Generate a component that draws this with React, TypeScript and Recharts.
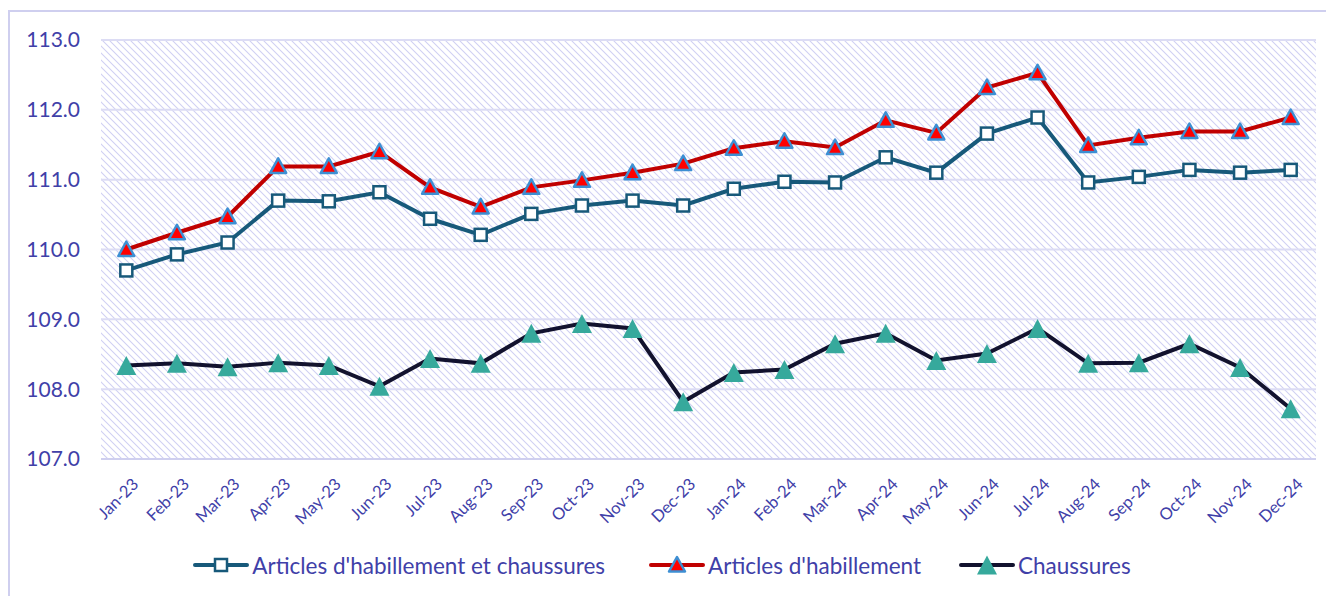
import { CartesianGrid, Legend, Line, LineChart, XAxis, YAxis } from "recharts";

const months = [
  "Jan-23", "Feb-23", "Mar-23", "Apr-23", "May-23", "Jun-23", "Jul-23", "Aug-23", "Sep-23", "Oct-23", "Nov-23", "Dec-23",
  "Jan-24", "Feb-24", "Mar-24", "Apr-24", "May-24", "Jun-24", "Jul-24", "Aug-24", "Sep-24", "Oct-24", "Nov-24", "Dec-24",
];
const habillementChaussures = [
  109.7, 109.93, 110.1, 110.7, 110.69, 110.82, 110.44, 110.21, 110.51, 110.63, 110.7, 110.63,
  110.87, 110.97, 110.96, 111.32, 111.1, 111.66, 111.89, 110.96, 111.04, 111.14, 111.1, 111.14,
];
const habillement = [
  110.0, 110.24, 110.47, 111.19, 111.19, 111.4, 110.89, 110.61, 110.89, 110.99, 111.1, 111.23,
  111.45, 111.55, 111.46, 111.85, 111.67, 112.32, 112.53, 111.49, 111.6, 111.69, 111.69, 111.89,
];
const chaussures = [
  108.34, 108.37, 108.32, 108.38, 108.34, 108.04, 108.44, 108.37, 108.8, 108.94, 108.87, 107.82,
  108.24, 108.28, 108.65, 108.8, 108.41, 108.51, 108.87, 108.37, 108.38, 108.65, 108.31, 107.72,
];
const yTicks = [107, 108, 109, 110, 111, 112, 113];

const data = months.map((m, i) => ({
  m,
  both: habillementChaussures[i],
  hab: habillement[i],
  chau: chaussures[i],
}));
// band edges, for the little tick marks between the months
const edgeTicks = months.map((_, i) => i).concat(months.length);

const TXT = "#4040a8";
const LAV = "#cfcfef";
const FONT = "Lato, 'Open Sans', sans-serif";

const C_BOTH = "#17597a";
const C_HAB = "#c00000";
const C_HAB_EDGE = "#3d8fd3";
const C_CHAU = "#12122e";
const C_CHAU_MK = "#36a99c";

function Square({ cx, cy }: any) {
  if (cx == null || cy == null) return null;
  return <rect x={cx - 6} y={cy - 6} width={12} height={12} fill="#fff" stroke={C_BOTH} strokeWidth={2.5} />;
}
function RedTri({ cx, cy }: any) {
  if (cx == null || cy == null) return null;
  return (
    <polygon
      points={`${cx},${cy - 8} ${cx + 8},${cy + 6.5} ${cx - 8},${cy + 6.5}`}
      fill="#ff0000" stroke={C_HAB_EDGE} strokeWidth={2.5} strokeLinejoin="round"
    />
  );
}
function TealTri({ cx, cy }: any) {
  if (cx == null || cy == null) return null;
  return <polygon points={`${cx},${cy - 9.5} ${cx + 10},${cy + 9.5} ${cx - 10},${cy + 9.5}`} fill={C_CHAU_MK} />;
}

const legendItems = [
  { label: "Articles d'habillement et chaussures", color: C_BOTH, Mk: Square, gap: 44 },
  { label: "Articles d'habillement", color: C_HAB, Mk: RedTri, gap: 38 },
  { label: "Chaussures", color: C_CHAU, Mk: TealTri, gap: 0 },
];

function LegendBox() {
  return (
    <div style={{ display: "flex", justifyContent: "center", alignItems: "center", height: 28, fontFamily: FONT, fontSize: 22.5, color: TXT }}>
      {legendItems.map(({ label, color, Mk, gap }) => (
        <div key={label} style={{ display: "flex", alignItems: "center", marginRight: gap }}>
          <svg width={56} height={24} style={{ marginRight: 3 }}>
            <line x1={2} y1={12} x2={54} y2={12} stroke={color} strokeWidth={4} strokeLinecap="round" />
            <Mk cx={28} cy={12} />
          </svg>
          <span>{label}</span>
        </div>
      ))}
    </div>
  );
}

export default function App() {
  return (
    <div style={{ position: "relative", width: 1326, height: 588, top: 1 }}>
      <svg width={0} height={0} style={{ position: "absolute" }}>
        <defs>
          <pattern id="hatch" patternUnits="userSpaceOnUse" width={7} height={7}>
            <path d="M-2,-2 L9,9 M-2,5 L2,9 M5,-2 L9,2" stroke="#d0d0f3" strokeWidth={1.1} />
          </pattern>
        </defs>
      </svg>
      <div style={{ position: "absolute", left: 0, top: 1, width: 1326, height: 2, background: LAV }} />
      <div style={{ position: "absolute", left: 0, top: 1, width: 2, height: 587, background: LAV }} />
      <LineChart width={1326} height={588} data={data} margin={{ top: 31, right: 18, left: 0, bottom: 18 }}>
        <CartesianGrid xAxisId={1} vertical={false} stroke="#dcdcf4" strokeWidth={2} fill="url(#hatch)" fillOpacity={1} />
        <XAxis
          xAxisId={0} type="number" domain={[0, months.length]} ticks={edgeTicks} allowDataOverflow
          height={6} tick={false} tickSize={6} tickLine={{ stroke: LAV, strokeWidth: 2 }}
          axisLine={{ stroke: LAV, strokeWidth: 2 }}
        />
        <XAxis
          xAxisId={1} dataKey="m" scale="band" interval={0} height={86} axisLine={false} tickLine={false}
          tickSize={0} tickMargin={12} angle={-45} textAnchor="end" dx={5}
          tick={{ fill: TXT, fontSize: 16.5, fontFamily: FONT }}
        />
        <YAxis
          domain={[107, 113]} ticks={yTicks} width={93} axisLine={false} tickLine={false} tickSize={0} tickMargin={21}
          tickFormatter={(v: number) => v.toFixed(1)} tick={{ fill: TXT, fontSize: 21, fontFamily: FONT }}
        />
        <Legend verticalAlign="bottom" content={() => <LegendBox />} />
        <Line xAxisId={1} dataKey="chau" stroke={C_CHAU} strokeWidth={4} dot={<TealTri />} activeDot={false} isAnimationActive={false} />
        <Line xAxisId={1} dataKey="both" stroke={C_BOTH} strokeWidth={4} dot={<Square />} activeDot={false} isAnimationActive={false} />
        <Line xAxisId={1} dataKey="hab" stroke={C_HAB} strokeWidth={4} dot={<RedTri />} activeDot={false} isAnimationActive={false} />
      </LineChart>
    </div>
  );
}
